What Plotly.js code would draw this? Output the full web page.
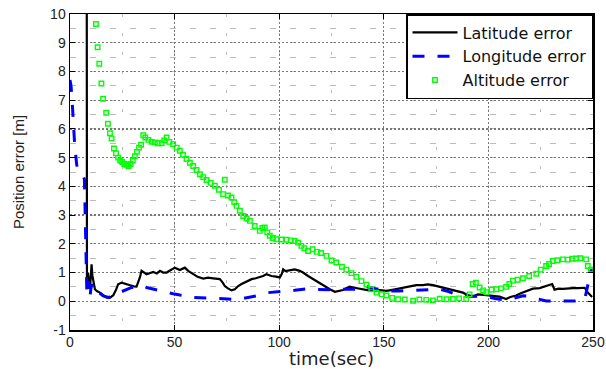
<!DOCTYPE html>
<html>
<head>
<meta charset="utf-8">
<script src="https://cdn.plot.ly/plotly-3.0.1.min.js"></script>
<style>
html,body{margin:0;padding:0;background:#fff;}
#chart{width:606px;height:369px;}
</style>
</head>
<body>
<div id="chart"></div>
<script>
// ---- data ----
const seriesNames = ["Latitude error", "Longitude error", "Altitude error"];

const latT = [8.0, 8.1, 8.6, 9.0, 9.5, 10.0, 10.3, 10.7, 11.1, 11.9, 13, 14.3, 16, 17.5, 19, 20.7, 22, 23, 24.7, 26.5, 28.7, 30.5, 31.8, 33.4, 34.2, 36.6, 38, 39.8, 41.5, 43, 44.5, 46.2, 48, 50.1, 52.5, 54.9, 56.5, 58.9, 61, 63.7, 66, 68.4, 71.6, 73, 74, 75.5, 77.2, 78.8, 80.4, 82, 83.6, 85, 86.8, 88.8, 90.7, 92.3, 93.9, 96.3, 98.5, 100.3, 101.2, 101.9, 103, 104.2, 106, 107.4, 109.8, 111.4, 113.8, 116, 119.4, 122, 124.2, 126.6, 128.5, 130.5, 132, 133.7, 136, 138.5, 141, 144, 148, 151.2, 153.5, 156, 159, 162.4, 165.5, 168.7, 171.1, 173.5, 177, 181.5, 184.5, 187.8, 190, 191.8, 193.5, 195, 198, 200.6, 203, 205.3, 207, 208.5, 210.5, 213.3, 215.5, 218.1, 221.3, 224.5, 227.6, 229.5, 230.5, 231.6, 233.5, 235.6, 238, 240.4, 243, 246, 247.5, 249.6];
const latV = [12, 0.8, 1.0, 0.6, 0.42, 0.9, 1.29, 0.9, 0.77, 0.42, 0.35, 0.3, 0.2, 0.13, 0.12, 0.21, 0.4, 0.59, 0.65, 0.6, 0.56, 0.52, 0.51, 0.83, 1.06, 0.94, 0.98, 1.02, 0.97, 1.06, 1.0, 1.0, 1.08, 1.17, 1.09, 1.17, 1.06, 0.94, 0.85, 0.79, 0.82, 0.8, 0.77, 0.65, 0.53, 0.45, 0.38, 0.42, 0.53, 0.6, 0.65, 0.7, 0.77, 0.8, 0.83, 0.88, 0.94, 0.88, 0.86, 0.83, 0.95, 1.11, 1.05, 1.06, 1.1, 1.11, 1.06, 1.0, 0.88, 0.78, 0.65, 0.52, 0.42, 0.33, 0.36, 0.39, 0.45, 0.51, 0.47, 0.44, 0.4, 0.36, 0.39, 0.36, 0.39, 0.42, 0.48, 0.51, 0.56, 0.56, 0.59, 0.56, 0.5, 0.42, 0.36, 0.3, 0.22, 0.18, 0.2, 0.24, 0.22, 0.21, 0.18, 0.16, 0.12, 0.08, 0.15, 0.2, 0.28, 0.34, 0.44, 0.46, 0.53, 0.56, 0.6, 0.4, 0.44, 0.43, 0.45, 0.46, 0.46, 0.47, 0.3, 0.15];

const lonT = [0, 0.5, 1, 1.5, 2.2, 3.2, 4, 5, 6, 6.9, 7.2, 7.6, 8, 8.4, 8.8, 9.2, 9.6, 10, 10.5, 11, 12.7, 14.3, 15.9, 18.3, 19.5, 21.5, 23.5, 25.5, 27.5, 29.5, 32, 34.2, 36.6, 40, 43, 46.2, 50, 52.5, 55.7, 58.9, 63, 68.4, 71.6, 75.5, 79.6, 82.8, 86.5, 90.7, 94.7, 99, 103.5, 107.4, 110.5, 113.8, 116.2, 121, 127.3, 130.5, 135, 139.3, 140.9, 143, 146, 150.4, 152.8, 157, 162.4, 165.5, 170, 176.7, 180, 183, 186.2, 192, 198.2, 203, 208.5, 212, 216.5, 218.5, 221.3, 224, 227.6, 235, 242, 246, 247.5, 249, 250];
const lonV = [7.7, 7.5, 7.0, 6.3, 5.5, 4.75, 4.55, 4.45, 4.4, 4.25, 3.0, 1.5, 0.45, 0.2, 0.7, 0.3, 0.17, 0.45, 0.6, 0.35, 0.36, 0.28, 0.19, 0.13, 0.15, 0.24, 0.3, 0.36, 0.42, 0.48, 0.52, 0.56, 0.48, 0.42, 0.36, 0.3, 0.25, 0.22, 0.19, 0.13, 0.12, 0.1, 0.1, 0.08, 0.05, 0.09, 0.15, 0.21, 0.3, 0.32, 0.34, 0.38, 0.41, 0.44, 0.42, 0.41, 0.39, 0.42, 0.42, 0.42, 0.53, 0.48, 0.44, 0.39, 0.36, 0.36, 0.38, 0.38, 0.4, 0.42, 0.36, 0.28, 0.19, 0.17, 0.18, 0.1, 0.04, 0.1, 0.19, 0.18, 0.13, 0.06, 0.01, 0.01, 0.01, 0.05, 0.53, 1.06, 1.1];

const altT = [12.4, 13.2, 14.0, 15.0, 15.8, 17.3, 18.1, 19.1, 19.9, 21.0, 22, 23, 24, 25, 26, 27, 27.9, 29, 30, 31, 32, 33, 34, 35, 36, 37.5, 39, 40.6, 42, 43.8, 45, 46.2, 47.5, 49.3, 51, 52.5, 54, 55.7, 57.3, 58.9, 60.5, 62.1, 63.7, 65.3, 67.2, 69.2, 71.2, 73.2, 74, 75.5, 77.2, 78.5, 79.6, 81.2, 82.8, 84.4, 86, 88.3, 90.7, 92, 93.1, 94.3, 95.5, 97, 98.7, 101, 103.5, 105.5, 107.4, 109, 110.6, 112, 113.8, 116, 118, 120, 122.6, 125, 127.3, 130, 132.1, 134.5, 136.9, 139.3, 141.7, 144, 146.5, 149, 151.2, 154, 156.8, 160, 164, 167, 170.3, 173.5, 176.7, 180, 183, 186, 189.4, 191, 192.5, 194, 195.8, 197.5, 199, 201.5, 203.8, 206, 208.5, 210, 211.7, 214, 216.5, 219.5, 222.9, 225, 227.6, 229, 230.8, 233, 235.6, 238, 240, 242, 244, 246.7, 247.5, 249];
const altV = [9.65, 8.84, 8.27, 7.58, 7.05, 6.56, 6.18, 5.85, 5.67, 5.32, 5.15, 5.0, 4.9, 4.85, 4.78, 4.75, 4.71, 4.78, 4.9, 5.05, 5.2, 5.35, 5.45, 5.78, 5.7, 5.62, 5.55, 5.53, 5.5, 5.5, 5.6, 5.7, 5.55, 5.47, 5.35, 5.24, 5.1, 4.95, 4.82, 4.71, 4.57, 4.42, 4.32, 4.22, 4.12, 4.02, 3.88, 3.73, 4.23, 3.68, 3.61, 3.45, 3.32, 3.15, 2.97, 2.88, 2.8, 2.62, 2.45, 2.55, 2.57, 2.4, 2.28, 2.2, 2.16, 2.15, 2.14, 2.12, 2.1, 2.04, 1.93, 1.85, 1.75, 1.81, 1.72, 1.68, 1.58, 1.42, 1.35, 1.2, 1.1, 0.98, 0.85, 0.7, 0.58, 0.42, 0.3, 0.24, 0.2, 0.12, 0.07, 0.06, 0.02, 0.06, 0.05, 0.03, 0.09, 0.07, 0.08, 0.1, 0.08, 0.24, 0.6, 0.65, 0.48, 0.38, 0.32, 0.4, 0.42, 0.45, 0.5, 0.6, 0.72, 0.75, 0.8, 0.88, 0.96, 1.1, 1.23, 1.3, 1.4, 1.43, 1.46, 1.45, 1.48, 1.49, 1.5, 1.46, 1.23, 1.1];

const xTickVals = [0, 50, 100, 150, 200, 250];
const xTickText = ["0", "50", "100", "150", "200", "250"];
const yTickVals = [-1, 0, 1, 2, 3, 4, 5, 6, 7, 8, 9, 10];
const yTickText = ["-1", "0", "1", "2", "3", "4", "5", "6", "7", "8", "9", "10"];
const xTitle = "time(sec)";
const yTitle = "Position error [m]";

// ---- traces ----
const traces = [
  {x: latT, y: latV, name: seriesNames[0], type: "scatter", mode: "lines",
   line: {color: "#000000", width: 2.2}},
  {x: lonT, y: lonV, name: seriesNames[1], type: "scatter", mode: "lines",
   line: {color: "#0000ff", width: 3, dash: "12px,13px"}},
  {x: altT, y: altV, name: seriesNames[2], type: "scatter", mode: "markers",
   marker: {symbol: "square-open", size: 4.5, color: "#00ff00", line: {color: "#00ff00", width: 1.4}}}
];

const tickFont = {family: "Liberation Sans, Arial, sans-serif", size: 14, color: "#222"};

const layout = {
  width: 606, height: 369,
  margin: {l: 70, r: 13, t: 14, b: 39, pad: 0},
  paper_bgcolor: "#ffffff", plot_bgcolor: "#ffffff",
  showlegend: true,
  legend: {
    x: 1, y: 1, xanchor: "right", yanchor: "top",
    bgcolor: "#ffffff", bordercolor: "#000000", borderwidth: 1.5,
    font: {family: "DejaVu Sans, sans-serif", size: 16, color: "#111"},
    itemwidth: 45, tracegroupgap: 0
  },
  xaxis: {
    range: [0, 250], tickmode: "array", tickvals: xTickVals, ticktext: xTickText,
    ticks: "inside", ticklen: 5, tickcolor: "#000", tickwidth: 1,
    showline: true, linecolor: "#000", linewidth: 1.5, mirror: "ticks",
    showgrid: true, gridcolor: "#777", gridwidth: 1.3, griddash: "2px,2px",
    zeroline: false, tickfont: tickFont, ticklabelstandoff: -1,
    minor: {dtick: 25, showgrid: true, gridcolor: "#bbb", gridwidth: 1, griddash: "3px,16px"},
    title: {text: xTitle, font: {family: "DejaVu Sans, sans-serif", size: 18, color: "#222"}, standoff: 6}
  },
  yaxis: {
    range: [-1, 10], tickmode: "array", tickvals: yTickVals, ticktext: yTickText,
    ticks: "inside", ticklen: 5, tickcolor: "#000", tickwidth: 1,
    showline: true, linecolor: "#000", linewidth: 1.5, mirror: "ticks",
    showgrid: true, gridcolor: "#777", gridwidth: 1.3, griddash: "2px,2px",
    zeroline: false, tickfont: tickFont, ticklabelstandoff: 0,
    minor: {dtick: 0.5, showgrid: true, gridcolor: "#bbb", gridwidth: 1, griddash: "6px,14px"},
    title: {text: yTitle, font: {family: "Liberation Sans, Arial, sans-serif", size: 15, color: "#222"}, standoff: 22}
  }
};

Plotly.newPlot("chart", traces, layout, {staticPlot: true, displayModeBar: false});
</script>
</body>
</html>
